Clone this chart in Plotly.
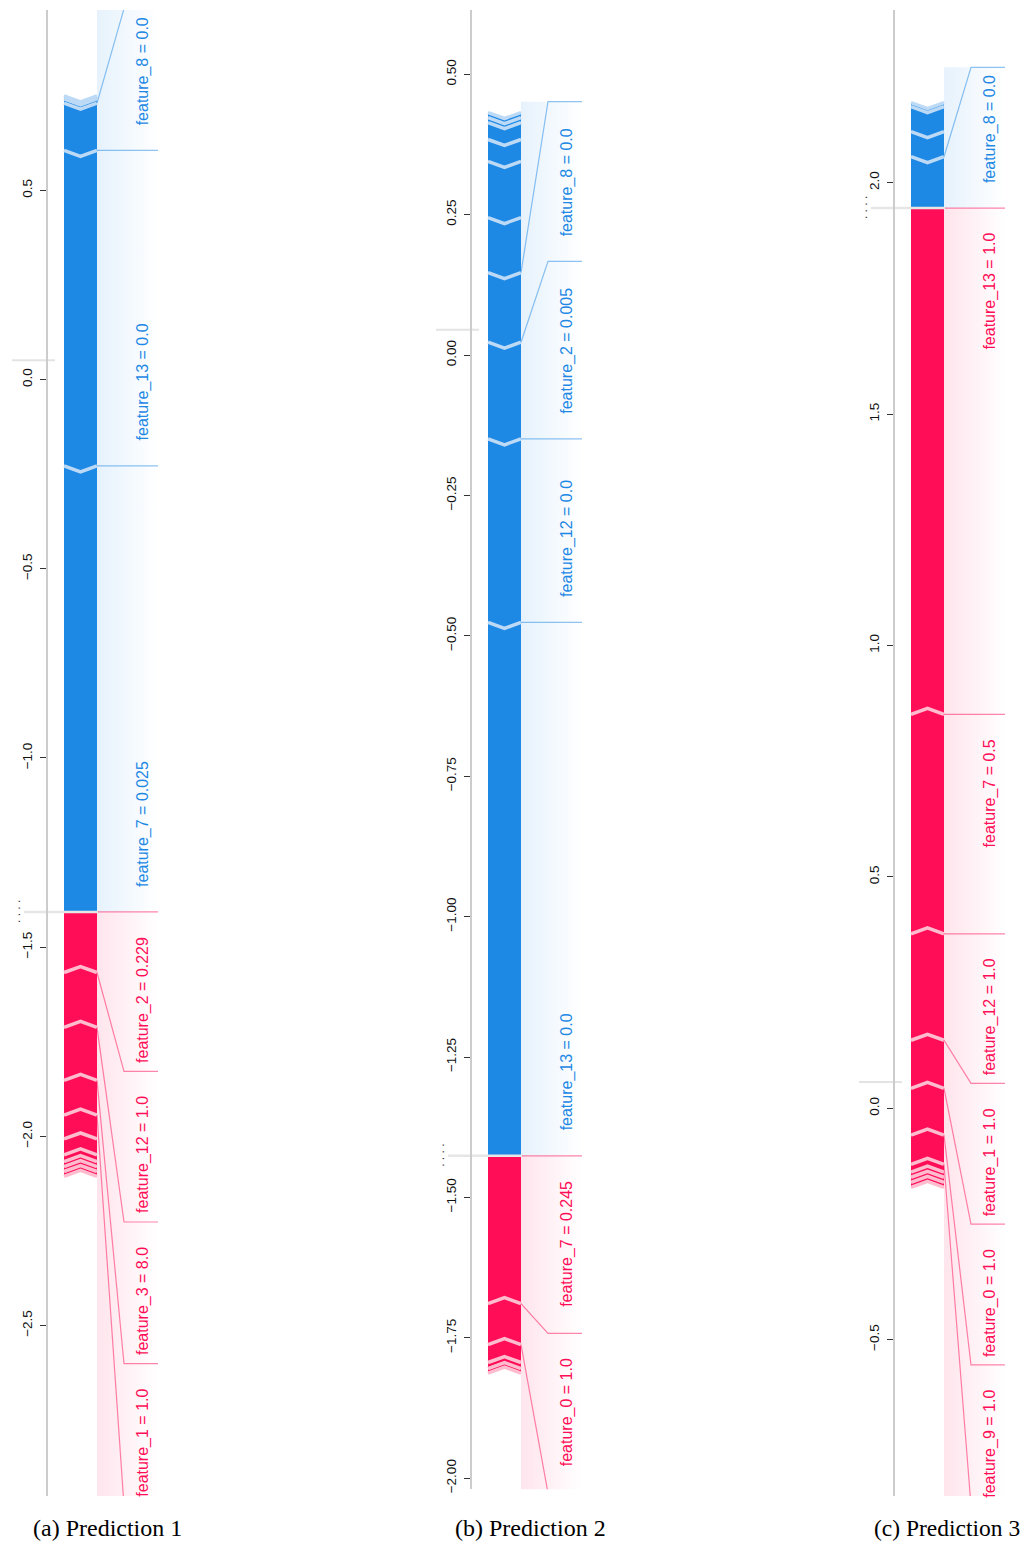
import plotly.graph_objects as go

# ---------------- data ----------------
panel_titles = ["(a) Prediction 1", "(b) Prediction 2", "(c) Prediction 3"]
output_values = [-1.407, -1.426, 1.945]

# effects listed outward from f(x); positive = red (pushes up), negative = blue (pushes down)
pos_effects_1 = [0.160, 0.145, 0.140, 0.092, 0.063, 0.042, 0.018, 0.013, 0.013, 0.013]
pos_labels_1 = ["feature_2 = 0.229", "feature_12 = 1.0", "feature_3 = 8.0", "feature_1 = 1.0",
                "", "", "", "", "", ""]
neg_effects_1 = [-1.179, -0.834, -0.125, -0.011, -0.008]
neg_labels_1 = ["feature_7 = 0.025", "feature_13 = 0.0", "feature_8 = 0.0", "", ""]

pos_effects_2 = [0.263, 0.073, 0.032, 0.011, 0.008]
pos_labels_2 = ["feature_7 = 0.245", "feature_0 = 1.0", "", "", ""]
neg_effects_2 = [-0.950, -0.327, -0.172, -0.124, -0.098, -0.100, -0.039, -0.030, -0.009, -0.009]
neg_labels_2 = ["feature_13 = 0.0", "feature_12 = 0.0", "feature_2 = 0.005", "feature_8 = 0.0",
                "", "", "", "", "", ""]

pos_effects_3 = [1.094, 0.474, 0.230, 0.104, 0.101, 0.063, 0.017, 0.011, 0.011, 0.011]
pos_labels_3 = ["feature_13 = 1.0", "feature_7 = 0.5", "feature_12 = 1.0", "feature_1 = 1.0",
                "feature_0 = 1.0", "feature_9 = 1.0", "", "", "", ""]
neg_effects_3 = [-0.111, -0.054, -0.054, -0.009]
neg_labels_3 = ["feature_8 = 0.0", "", "", ""]

pos_effects = [pos_effects_1, pos_effects_2, pos_effects_3]
pos_labels = [pos_labels_1, pos_labels_2, pos_labels_3]
neg_effects = [neg_effects_1, neg_effects_2, neg_effects_3]
neg_labels = [neg_labels_1, neg_labels_2, neg_labels_3]

y_ranges = [(-2.951, 0.977), (-2.0195, 0.6146), (-0.838, 2.373)]
tick_steps = [0.5, 0.25, 0.5]
tick_formats = [".1f", ".2f", ".1f"]

# ---------------- style / layout ----------------
PAGE_W, PAGE_H = 1031, 1548
OFF = 8  # default page margin of the html body
W, H = PAGE_W - OFF, PAGE_H - OFF
RED, BLUE = "#FF0D57", "#1E88E5"
RED_SEP, BLUE_SEP = "#ffbccf", "#bcdaf6"
RED_LINE, BLUE_LINE = "rgba(255,13,87,0.5)", "rgba(30,136,229,0.5)"
axis_px = [47, 471, 894]          # page pixels
top_px = 10
bottom_px = [1500, 1493, 1500]
label_pad = [34, 52, 33]
BAR_X0, BAR_X1 = 17, 50
BAR_XC = (BAR_X0 + BAR_X1) / 2
LAB_X1 = 111
KNEE_X = 77
TEXT_X = 96
TIP_PX = 6
TEXT_GAP = 24
FONT_PX = 16
SANS = "Liberation Sans, Arial, sans-serif"
CHAR_EM = {"f": 278, "e": 556, "a": 556, "t": 278, "u": 556, "r": 333, "_": 556,
           " ": 278, "=": 584, ".": 278}


def text_px(s):
    return sum(CHAR_EM.get(c, 556) for c in s) * FONT_PX / 1000.0


fig = go.Figure()
annotations = []
layout_axes = {}

for p in range(3):
    xa = "x" if p == 0 else f"x{p + 1}"
    ya = "y" if p == 0 else f"y{p + 1}"
    lo, hi = y_ranges[p]
    scale = (bottom_px[p] - top_px) / (hi - lo)  # px per unit
    d = TIP_PX / scale
    out = output_values[p]
    base = out - sum(pos_effects[p]) - sum(neg_effects[p])

    def add(tr):
        tr.update(xaxis=xa, yaxis=ya, hoverinfo="skip", showlegend=False)
        fig.add_trace(tr)

    sides = [(pos_effects[p], pos_labels[p], 1, RED, RED_SEP, RED_LINE,
              "rgba(255,13,87,0.11)", "rgba(255,13,87,0)"),
             (neg_effects[p], neg_labels[p], -1, BLUE, BLUE_SEP, BLUE_LINE,
              "rgba(30,136,229,0.11)", "rgba(30,136,229,0)")]

    side_info = []
    for effects, labels, s, col, sepcol, linecol, g0, g1 in sides:
        segs = []
        cur = out
        box_prev = out
        boxes = []
        for e, lab in zip(effects, labels):
            a, b = cur, cur - e
            segs.append((a, b))
            cur = b
            if lab:
                need = (text_px(lab) + label_pad[p]) / scale
                if s > 0:
                    box_end = min(b, box_prev - need)
                else:
                    box_end = max(b, box_prev + need)
                boxes.append((b, box_prev, box_end, lab))
                box_prev = box_end
        side_info.append((segs, boxes, s, col, sepcol, linecol, g0, g1, box_prev))

    # label backings (gradient)
    for segs, boxes, s, col, sepcol, linecol, g0, g1, box_last in side_info:
        add(go.Scatter(x=[BAR_X1, LAB_X1, LAB_X1, BAR_X1, BAR_X1],
                       y=[out, out, box_last, box_last, out],
                       mode="lines", line=dict(width=0), fill="toself",
                       fillgradient=dict(type="horizontal",
                                         colorscale=[[0, g0], [1, g1]])))

    # bar segments
    for segs, boxes, s, col, sepcol, linecol, g0, g1, box_last in side_info:
        for i, (a, b) in enumerate(segs):
            a_tip = a if i == 0 else a + s * d
            add(go.Scatter(x=[BAR_X0, BAR_XC, BAR_X1, BAR_X1, BAR_XC, BAR_X0, BAR_X0],
                           y=[a, a_tip, a, b, b + s * d, b, a],
                           mode="lines", line=dict(width=0, color=col),
                           fill="toself", fillcolor=col))
        xs, ys = [], []
        for i, (a, b) in enumerate(segs):
            xs += [BAR_X0, BAR_XC, BAR_X1, None]
            ys += [b, b + s * d, b, None]
        add(go.Scatter(x=xs, y=ys, mode="lines",
                       line=dict(color=sepcol, width=3.5)))

    # f(x) divider line
    add(go.Scatter(x=[-23, BAR_X1 + 2], y=[out, out], mode="lines",
                   line=dict(color="#e6e6e6", width=2.5)))
    add(go.Scatter(x=[BAR_X1 + 1, LAB_X1], y=[out, out], mode="lines",
                   line=dict(color=RED_LINE, width=1.2)))

    # label lines and texts
    for segs, boxes, s, col, sepcol, linecol, g0, g1, box_last in side_info:
        for seg_end, box_start, box_end, lab in boxes:
            add(go.Scatter(x=[BAR_X1, KNEE_X, LAB_X1], y=[seg_end, box_end, box_end],
                           mode="lines", line=dict(color=linecol, width=1.2)))
            annotations.append(dict(
                x=TEXT_X, y=box_start, xref=xa, yref=ya, text=lab, showarrow=False,
                textangle=-90, xanchor="center",
                yanchor="top" if s > 0 else "bottom",
                yshift=-TEXT_GAP if s > 0 else TEXT_GAP, borderpad=0,
                font=dict(family=SANS, size=FONT_PX, color=col)))

    # base value line
    add(go.Scatter(x=[-35, 8], y=[base, base], mode="lines",
                   line=dict(color="#e3e3e3", width=2)))

    # clipped label remnants near f(x)
    annotations.append(dict(x=-31, y=out, xref=xa, yref=ya, text=". . . .", showarrow=False,
                            textangle=-90, borderpad=0,
                            font=dict(family=SANS, size=12, color="#333")))

    ax = axis_px[p] - OFF
    dl, dr = max(0, ax - 47), min(W, ax + 137)
    xkey = "xaxis" if p == 0 else f"xaxis{p + 1}"
    ykey = "yaxis" if p == 0 else f"yaxis{p + 1}"
    layout_axes[xkey] = dict(domain=[dl / W, dr / W], range=[dl - ax, dr - ax],
                             visible=False, anchor=ya, fixedrange=True)
    layout_axes[ykey] = dict(domain=[1 - (bottom_px[p] - OFF) / H, 1 - (top_px - OFF) / H],
                             range=[lo, hi], anchor="free", position=ax / W,
                             showline=True, linecolor="#cccccc", linewidth=2,
                             ticks="outside", ticklen=6, tickwidth=1.3, tickcolor="#333",
                             tickangle=-90, tickmode="linear", tick0=0, dtick=tick_steps[p],
                             tickformat=tick_formats[p], showgrid=False, zeroline=False,
                             ticklabelstandoff=3,
                             tickfont=dict(family=SANS, size=13.5, color="#111"))

# captions
caption_x = [107, 530, 872]
caption_size = [24, 24, 23.5]
caption_anchor = ["center", "center", "left"]
for p in range(3):
    annotations.append(dict(x=(caption_x[p] - OFF) / W, y=1 - (1532 - OFF) / H,
                            xref="paper", yref="paper",
                            text=panel_titles[p], showarrow=False, xanchor=caption_anchor[p],
                            yanchor="middle",
                            font=dict(family="Liberation Serif, Times New Roman, serif",
                                      size=caption_size[p], color="#000")))

fig.update_layout(width=W, height=H, margin=dict(l=0, r=0, t=0, b=0),
                  paper_bgcolor="white", plot_bgcolor="rgba(0,0,0,0)",
                  showlegend=False, annotations=annotations, **layout_axes)

fig.write_html("out.html")
